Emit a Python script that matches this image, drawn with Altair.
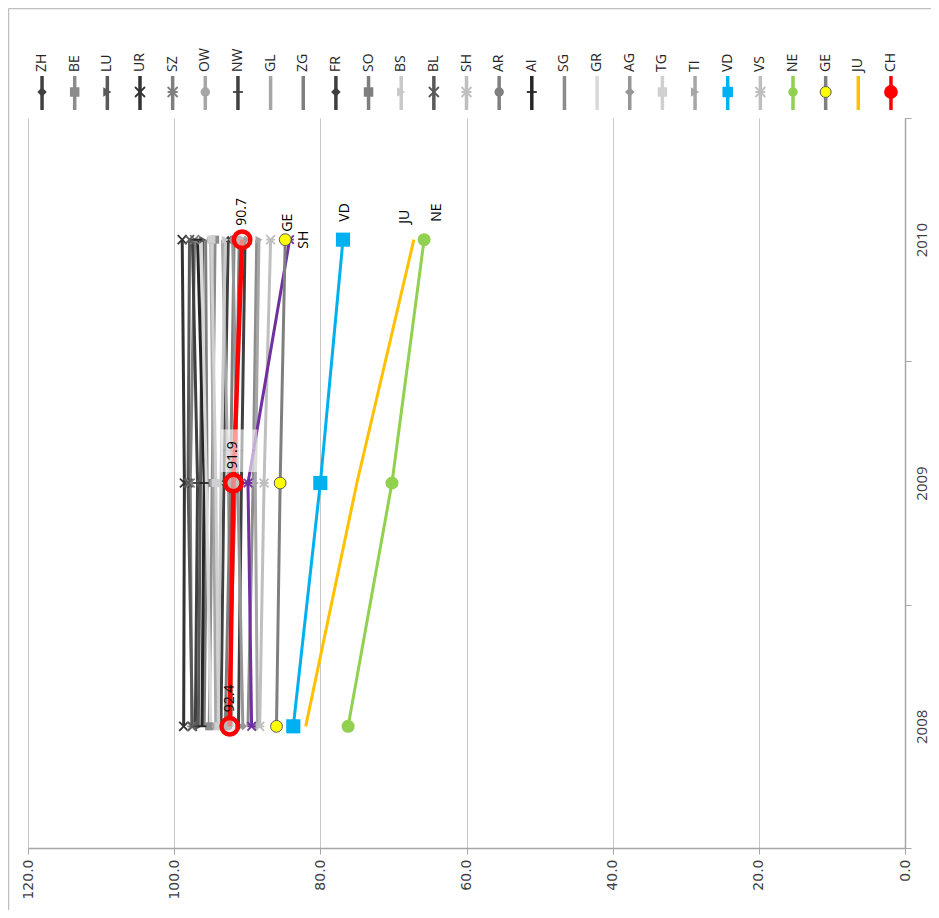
import altair as alt
import pandas as pd

# ---------------- data ----------------
series = ["ZH", "BE", "LU", "UR", "SZ", "OW", "NW", "GL", "ZG", "FR", "SO", "BS", "BL", "SH",
          "AR", "AI", "SG", "GR", "AG", "TG", "TI", "VD", "VS", "NE", "GE", "JU", "CH"]
years = ["2008", "2009", "2010"]
v2008 = [93.6, 95.2, 96.7, 98.7, 97.6, 94.3, 97.1, 92.1, 95.9, 91.2, 93.0, 94.0, 97.5, 89.4,
         92.6, 96.2, 89.9, 95.0, 90.6, 93.9, 88.6, 83.7, 88.3, 76.2, 86.0, 82.0, 92.4]
v2009 = [93.2, 94.8, 96.4, 98.6, 97.8, 94.6, 96.8, 92.6, 95.5, 90.8, 92.3, 93.6, 98.1, 89.9,
         91.6, 95.9, 89.2, 95.6, 91.3, 94.3, 88.9, 80.0, 87.7, 70.2, 85.5, 75.0, 91.9]
v2010 = [92.6, 94.4, 96.1, 98.9, 97.2, 95.0, 97.5, 93.4, 95.7, 90.3, 91.8, 93.0, 97.9, 84.2,
         91.1, 96.8, 88.7, 96.3, 92.0, 94.9, 88.4, 76.9, 86.8, 65.8, 84.8, 67.2, 90.7]
x_ticks = [0, 20, 40, 60, 80, 100, 120]

rows = []
for i, s in enumerate(series):
    for y, vals in zip(years, [v2008, v2009, v2010]):
        rows.append({"series": s, "year": y, "value": vals[i]})
df = pd.DataFrame(rows)
ldf = pd.DataFrame({"series": series})

# ---------------- styles ----------------
legend_color = {
    "ZH": "#404040", "BE": "#8c8c8c", "LU": "#595959", "UR": "#333333", "SZ": "#7f7f7f",
    "OW": "#a6a6a6", "NW": "#404040", "GL": "#a6a6a6", "ZG": "#7f7f7f", "FR": "#3f3f3f",
    "SO": "#7f7f7f", "BS": "#c8c8c8", "BL": "#595959", "SH": "#bfbfbf", "AR": "#7f7f7f",
    "AI": "#262626", "SG": "#8c8c8c", "GR": "#d9d9d9", "AG": "#969696", "TG": "#d0d0d0",
    "TI": "#a6a6a6", "VD": "#00b0f0", "VS": "#bfbfbf", "NE": "#92d050", "GE": "#7f7f7f",
    "JU": "#ffc000", "CH": "#ff0000"}
plot_color = dict(legend_color, SH="#7030a0")

XS = "M-1,-1L1,1M-1,1L1,-1"
STAR = "M-1,-1L1,1M-1,1L1,-1M-1,0L1,0"
DASH = "M-1,0L1,0"
marker_shape = {
    "ZH": "diamond", "BE": "square", "LU": "triangle-right", "UR": XS, "SZ": STAR,
    "OW": "circle", "NW": DASH, "GL": None, "ZG": None, "FR": "diamond", "SO": "square",
    "BS": "triangle-right", "BL": XS, "SH": STAR, "AR": "circle", "AI": DASH, "SG": None,
    "GR": None, "AG": "diamond", "TG": "square", "TI": "triangle-right", "VD": "square",
    "VS": STAR, "NE": "circle", "GE": "circle", "JU": None, "CH": "circle"}

highlight = ["SH", "VD", "NE", "GE", "JU", "CH"]
gray = [s for s in series if s not in highlight]
stroked_shapes = [XS, STAR, DASH]
gray_filled = [s for s in gray if marker_shape[s] and marker_shape[s] not in stroked_shapes]
gray_stroked = [s for s in gray if marker_shape[s] in stroked_shapes]
leg_filled = [s for s in series if marker_shape[s] and marker_shape[s] not in stroked_shapes
              and s not in ("GE", "CH", "VD")]
leg_stroked = [s for s in series if marker_shape[s] in stroked_shapes]

FONT = "Open Sans"
AXC = "#a6a6a6"


def only(names):
    return alt.FieldOneOfPredicate(field="series", oneOf=names)


X_ENC = alt.X("value:Q",
              scale=alt.Scale(domain=[0, 120], reverse=True, nice=False, zero=True),
              axis=alt.Axis(values=x_ticks, format=".1f", labelAngle=270, labelAlign="right",
                            labelBaseline="middle", labelFont="DejaVu Sans", labelFontSize=14,
                            labelColor="#404040", labelPadding=5, tickSize=6, tickColor=AXC,
                            domainColor=AXC, domainWidth=1.5, grid=True, gridColor="#c8c8c8",
                            title=None))
Y_ENC = alt.Y("year:O", sort="descending",
              scale=alt.Scale(type="band", paddingInner=0, paddingOuter=0),
              axis=alt.Axis(orient="right", tickBand="extent", labelAngle=270,
                            labelAlign="center", labelBaseline="top", labelFont=FONT,
                            labelFontSize=15, labelColor="#404040", labelPadding=3,
                            tickSize=6, tickColor=AXC, domainColor=AXC, domainWidth=1.5,
                            grid=False, title=None))
COLOR = alt.Color("series:N", scale=alt.Scale(domain=series, range=[plot_color[s] for s in series]),
                  legend=None)
SHAPE = alt.Shape("series:N",
                  scale=alt.Scale(domain=series, range=[marker_shape[s] or "circle" for s in series]),
                  legend=None)
ORDER = alt.Order("year:O")

base = alt.Chart(df)

gray_lines = base.transform_filter(only(gray)).mark_line(strokeWidth=3).encode(
    x=X_ENC, y=Y_ENC, color=COLOR, detail="series:N", order=ORDER)
gray_fill_pts = base.transform_filter(only(gray_filled)).mark_point(
    filled=True, size=65, opacity=1).encode(x=X_ENC, y=Y_ENC, color=COLOR, shape=SHAPE)
gray_stroke_pts = base.transform_filter(only(gray_stroked)).mark_point(
    filled=False, size=80, strokeWidth=1.8, opacity=1).encode(x=X_ENC, y=Y_ENC, color=COLOR, shape=SHAPE)

hl_lines = base.transform_filter(only(["GE", "SH", "VD", "JU", "NE"])).mark_line(strokeWidth=3).encode(
    x=X_ENC, y=Y_ENC, color=COLOR, detail="series:N", order=ORDER)
sh_pts = base.transform_filter(only(["SH"])).mark_point(
    filled=False, size=70, strokeWidth=1.8, opacity=1).encode(x=X_ENC, y=Y_ENC, color=COLOR, shape=SHAPE)
vd_pts = base.transform_filter(only(["VD"])).mark_point(
    filled=True, shape="square", size=200, opacity=1).encode(x=X_ENC, y=Y_ENC, color=COLOR)
ne_pts = base.transform_filter(only(["NE"])).mark_point(
    filled=True, shape="circle", size=170, opacity=1).encode(x=X_ENC, y=Y_ENC, color=COLOR)
ge_pts = base.transform_filter(only(["GE"])).mark_point(
    filled=True, shape="circle", size=140, fill="#ffff00", stroke="#595959", strokeWidth=1,
    opacity=1).encode(x=X_ENC, y=Y_ENC)
ch_line = base.transform_filter(only(["CH"])).mark_line(strokeWidth=4.5).encode(
    x=X_ENC, y=Y_ENC, color=COLOR, detail="series:N", order=ORDER)
ch_pts = base.transform_filter(only(["CH"])).mark_point(
    filled=True, shape="circle", size=270, fill="#e0e0e0", fillOpacity=0.6, stroke="#ff0000",
    strokeWidth=4.5, opacity=1).encode(x=X_ENC, y=Y_ENC)
ch_box = base.transform_filter(only(["CH"])).transform_filter(alt.datum.year == "2009").mark_text(
    angle=270, align="left", baseline="middle", dx=11, dy=6, font=FONT, fontSize=30,
    color="#ffffff", opacity=0.6).encode(x=X_ENC, y=Y_ENC, text=alt.value("\u2588\u2588"))
ch_text = base.transform_filter(only(["CH"])).mark_text(
    angle=270, align="left", baseline="middle", dx=14, font=FONT, fontSize=14,
    color="#000000").encode(x=X_ENC, y=Y_ENC, text=alt.Text("value:Q", format=".1f"))


def end_label(name, dx, dy, align="left"):
    return base.transform_filter(only([name])).transform_filter(
        alt.datum.year == "2010").mark_text(
        angle=270, align=align, baseline="middle", dx=dx, dy=dy, font=FONT, fontSize=14,
        color="#000000").encode(x=X_ENC, y=Y_ENC, text="series:N")


labels = [end_label("GE", 8, 3), end_label("SH", 0, 14, "center"), end_label("VD", 18, 2),
          end_label("JU", 16, -9), end_label("NE", 18, 13)]

main = alt.layer(gray_lines, gray_fill_pts, gray_stroke_pts, hl_lines, sh_pts, vd_pts, ne_pts,
                 ge_pts, ch_line, ch_pts, ch_box, ch_text, *labels)

# ---------------- legend ----------------
LX = alt.X("series:N", sort=series,
           scale=alt.Scale(type="point", domain=series, padding=0.43), axis=None)
LCOLOR = alt.Color("series:N", scale=alt.Scale(domain=series, range=[legend_color[s] for s in series]),
                   legend=None)
LSHAPE = alt.Shape("series:N",
                   scale=alt.Scale(domain=series, range=[marker_shape[s] or "circle" for s in series]),
                   legend=None)
lbase = alt.Chart(ldf)
leg_rules = lbase.mark_rule(strokeWidth=3.5).encode(
    x=LX, y=alt.value(-42), y2=alt.value(-8), color=LCOLOR)
leg_fill = lbase.transform_filter(only(leg_filled)).mark_point(
    filled=True, size=90, opacity=1).encode(x=LX, y=alt.value(-26), color=LCOLOR, shape=LSHAPE)
leg_stroke = lbase.transform_filter(only(leg_stroked)).mark_point(
    filled=False, size=100, strokeWidth=1.8, opacity=1).encode(x=LX, y=alt.value(-26), color=LCOLOR,
                                                              shape=LSHAPE)
leg_vd = lbase.transform_filter(only(["VD"])).mark_point(
    filled=True, shape="square", size=110, opacity=1).encode(x=LX, y=alt.value(-26), color=LCOLOR)
leg_ge = lbase.transform_filter(only(["GE"])).mark_point(
    filled=True, shape="circle", size=120, fill="#ffff00", stroke="#595959", strokeWidth=1,
    opacity=1).encode(x=LX, y=alt.value(-26))
leg_ch = lbase.transform_filter(only(["CH"])).mark_point(
    filled=True, shape="circle", size=190, opacity=1).encode(x=LX, y=alt.value(-26), color=LCOLOR)
leg_text = lbase.mark_text(angle=270, align="left", baseline="middle", font=FONT, fontSize=14,
                           color="#262626").encode(x=LX, y=alt.value(-46), text="series:N")

border = alt.Chart(pd.DataFrame({"a": [0]}))
left_border = border.mark_rule(color="#bfbfbf", strokeWidth=1.5).encode(
    x=alt.value(-19.5), y=alt.value(-109.5), y2=alt.value(800))
top_border = border.mark_rule(color="#bfbfbf", strokeWidth=1.5).encode(
    x=alt.value(-19.5), x2=alt.value(903), y=alt.value(-109.5))

legend = alt.layer(leg_rules, leg_fill, leg_stroke, leg_vd, leg_ge, leg_ch, leg_text,
                   left_border, top_border)

chart = alt.layer(main, legend).resolve_scale(
    x="independent", y="independent", color="independent", shape="independent"
).properties(
    width=877, height=730,
    padding={"left": 20, "top": 110, "right": 26, "bottom": 62},
    autosize=alt.AutoSizeParams(type="none"),
    background="white",
).configure_view(strokeWidth=0)

chart.save("out.html", embed_options={"renderer": "svg", "actions": False})
